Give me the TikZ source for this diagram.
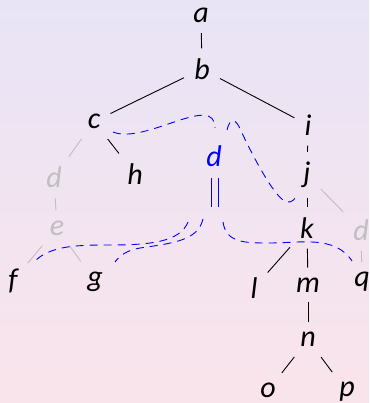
\documentclass[tikz,border=0pt]{standalone}
\usepackage{fontspec}
\setmainfont{Carlito}
\begin{document}
\begin{tikzpicture}[x=1pt,y=-1pt,
  lab/.style={inner sep=10pt, font=\fontsize{30}{36}\selectfont\itshape, text=black},
  ghost/.style={lab, text=black!25},
  bl/.style={lab, text=blue},
  edge/.style={draw=black, line width=0.9pt},
  gedge/.style={draw=black!25, line width=0.9pt},
  link/.style={draw=blue, line width=0.9pt, dash pattern=on 8pt off 6pt},
  bars/.style={draw=blue, line width=1.2pt}]
\shade[top color={rgb,255:red,232;green,228;blue,246}, bottom color={rgb,255:red,250;green,228;blue,235}] (0,0) rectangle (369,403);
\useasboundingbox (0,0) rectangle (369,403);
% nodes
\node[lab] (a) at (201,15.5) {a};
\node[lab] (b) at (202,69) {b};
\node[lab] (c) at (94,121.5) {c};
\node[lab] (i) at (308,125) {i};
\node[ghost] (dl) at (54,177.5) {d};
\node[lab] (h) at (135,174) {h};
\node[bl] (dm) at (214,156) {d};
\node[lab] (j) at (307,175) {j};
\node[ghost] (e) at (57,228) {e};
\node[lab] (k) at (307,228) {k};
\node[ghost] (dr) at (361,230) {d};
\node[lab] (f) at (13,281) {f};
\node[lab] (g) at (95,281.5) {g};
\node[lab] (l) at (254,288) {l};
\node[lab] (m) at (308,285) {m};
\node[lab] (q) at (362,282) {q};
\node[lab] (n) at (308,339.5) {n};
\node[lab] (o) at (268,390.5) {o};
\node[lab] (p) at (347,392) {p};
% tree edges
\path[edge] (a) -- (b);
\path[edge] (b) -- (c);
\path[edge] (b) -- (i);
\path[edge] (c) -- (h);
\path[gedge] (c) -- (dl);
\path[gedge] (dl) -- (e);
\path[gedge] (e) -- (f);
\path[gedge] (e) -- (g);
\path[edge] (i) -- (j);
\path[edge] (j) -- (k);
\path[gedge] (j) -- (dr);
\path[gedge] (dr) -- (q);
\path[edge] (k) -- (l);
\path[edge] (k) -- (m);
\path[edge] (m) -- (n);
\path[edge] (n) -- (o);
\path[edge] (n) -- (p);
% equality bars under the blue d
\coordinate (eq) at (215,192.5);
\path[bars] ([xshift=-3.3pt,yshift=14.5pt]eq) -- ([xshift=-3.3pt,yshift=-14.5pt]eq)
            ([xshift=3.3pt,yshift=14.5pt]eq) -- ([xshift=3.3pt,yshift=-14.5pt]eq);
% dashed links
\path[link] (113,132) .. controls (145,145) and (215,92) .. (215,128);
\path[link] (227,130) .. controls (230,117) and (236,118) .. (241,131)
   .. controls (250,150) and (270,190) .. (283,200)
   .. controls (288,204) and (293,202) .. (296,197);
\path[link] (188,222) .. controls (180,242) and (150,245) .. (110,245)
   .. controls (80,245) and (50,245) .. (34,262);
\path[link] (203,219) .. controls (198,240) and (175,243) .. (140,248)
   .. controls (128,250) and (120,255) .. (115,262);
\path[link] (223,222) .. controls (226,243) and (245,243) .. (270,243)
   .. controls (300,243) and (335,235) .. (352,261);
\end{tikzpicture}
\end{document}
